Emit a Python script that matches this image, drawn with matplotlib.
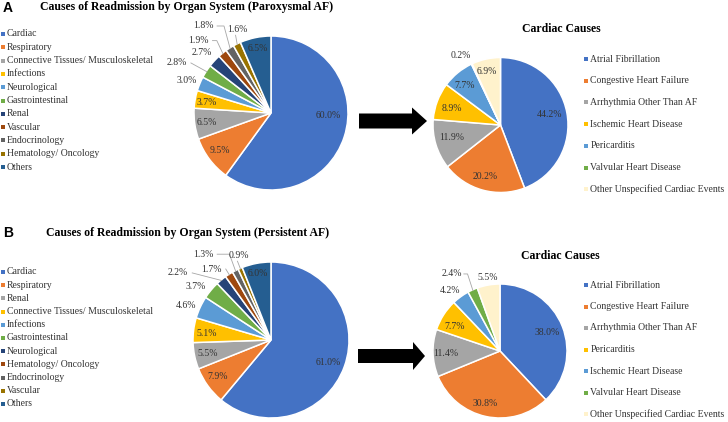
import matplotlib
matplotlib.use("Agg")
import matplotlib.pyplot as plt
import numpy as np
from matplotlib.patches import Polygon

plt.rcParams['font.family'] = ['Liberation Serif', 'DejaVu Serif']

# ---------------- data ----------------
organ_a_labels = ["Cardiac", "Respiratory", "Connective Tissues/ Musculoskeletal", "Infections",
                  "Neurological", "Gastrointestinal", "Renal", "Vascular", "Endocrinology",
                  "Hematology/ Oncology", "Others"]
organ_a_values = [60.0, 9.5, 6.5, 3.7, 3.0, 2.8, 2.7, 1.9, 1.8, 1.6, 6.5]

cardiac_a_labels = ["Atrial Fibrillation", "Congestive Heart Failure", "Arrhythmia Other Than AF",
                    "Ischemic Heart Disease", "Pericarditis", "Valvular Heart Disease",
                    "Other Unspecified Cardiac Events"]
cardiac_a_values = [44.2, 20.2, 11.9, 8.9, 7.7, 0.2, 6.9]

organ_b_labels = ["Cardiac", "Respiratory", "Renal", "Connective Tissues/ Musculoskeletal",
                  "Infections", "Gastrointestinal", "Neurological", "Hematology/ Oncology",
                  "Endocrinology", "Vascular", "Others"]
organ_b_values = [61.0, 7.9, 5.5, 5.1, 4.6, 3.7, 2.2, 1.7, 1.3, 0.9, 6.0]

cardiac_b_labels = ["Atrial Fibrillation", "Congestive Heart Failure", "Arrhythmia Other Than AF",
                    "Pericarditis", "Ischemic Heart Disease", "Valvular Heart Disease",
                    "Other Unspecified Cardiac Events"]
cardiac_b_values = [38.0, 30.8, 11.4, 7.7, 4.2, 2.4, 5.5]

# ---------------- styles / layout ----------------
organ_colors = ["#4472C4", "#ED7D31", "#A5A5A5", "#FFC000", "#5B9BD5", "#70AD47",
                "#264478", "#9E480E", "#636363", "#997300", "#255E91"]
cardiac_colors = ["#4472C4", "#ED7D31", "#A5A5A5", "#FFC000", "#5B9BD5", "#70AD47", "#FFF2CC"]

W, H = 728, 422
TXT = "#333333"
LEAD = "#A6A6A6"

# label positions in pie-radius units and leader flags
lab_a1 = [(0.74, -0.03), (-0.66, -0.49), (-0.83, -0.12), (-0.83, 0.13), (-1.10, 0.42),
          (-1.22, 0.65), (-0.90, 0.78), (-0.94, 0.94), (-0.88, 1.13), (-0.44, 1.08), (-0.17, 0.84)]
lead_a1 = [0, 0, 0, 0, 0, 1, 0, 1, 1, 1, 0]
lab_a2 = [(0.73, 0.16), (-0.23, -0.77), (-0.72, -0.18), (-0.72, 0.25), (-0.53, 0.59),
          (-0.59, 1.03), (-0.20, 0.79)]
lead_a2 = [0, 0, 0, 0, 0, 0, 0]
lab_b1 = [(0.73, -0.29), (-0.68, -0.47), (-0.81, -0.17), (-0.82, 0.08), (-1.09, 0.44),
          (-0.96, 0.68), (-1.19, 0.86), (-0.76, 0.91), (-0.87, 1.10), (-0.41, 1.08), (-0.17, 0.85)]
lead_b1 = [0, 0, 0, 0, 0, 0, 1, 1, 1, 1, 0]
lab_b2 = [(0.70, 0.27), (-0.22, -0.78), (-0.81, -0.04), (-0.67, 0.37), (-0.75, 0.90),
          (-0.72, 1.15), (-0.19, 1.10)]
lead_b2 = [0, 0, 0, 0, 0, 1, 0]

fig = plt.figure(figsize=(W / 100, H / 100), dpi=100)
ov = fig.add_axes([0, 0, 1, 1])
ov.set_xlim(0, W)
ov.set_ylim(H, 0)
ov.axis("off")


def pie_at(cx, cy, R, values, colors, labpos, leads):
    ax = fig.add_axes([(cx - R) / W, 1 - (cy + R) / H, 2 * R / W, 2 * R / H])
    wedges, _ = ax.pie(values, colors=colors, startangle=90, counterclock=False,
                       wedgeprops=dict(edgecolor="white", linewidth=1.1))
    ax.set_xlim(-1, 1)
    ax.set_ylim(-1, 1)
    ax.set_aspect("equal")
    ax.axis("off")
    for w, v, (lx, ly), ld in zip(wedges, values, labpos, leads):
        ax.text(lx, ly, f"{v:.1f}%", ha="center", va="center", fontsize=7, color=TXT,
                clip_on=False)
        if ld:
            th = np.deg2rad((w.theta1 + w.theta2) / 2)
            ex, ey = np.cos(th) * 0.99, np.sin(th) * 0.99
            hw = 0.16
            if ex > lx + hw:
                sx, sy = lx + hw + 0.02, ly
                if ey < ly - 0.12:
                    mx = ex - 0.08 if ex - 0.08 > sx else sx
                    xs, ys = [sx, mx, ex], [sy, sy, ey]
                else:
                    xs, ys = [sx, ex], [sy, ey]
            else:
                xs, ys = [lx - 0.02, ex], [ly - 0.07, ey]
            ax.plot(xs, ys, color=LEAD, lw=0.6, clip_on=False)
    return ax


def legend_at(x, y0, dy, labels, colors, fs=7):
    for i, (lab, c) in enumerate(zip(labels, colors)):
        y = y0 + i * dy
        ov.scatter([x], [y], marker="s", s=7, color=c, linewidths=0)
        ov.text(x + 4.5, y, lab, ha="left", va="center", fontsize=fs, color=TXT)


def arrow(x0, x1, xt, yc, bh, hh):
    pts = [(x0, yc - bh / 2), (x1, yc - bh / 2), (x1, yc - hh / 2), (xt, yc),
           (x1, yc + hh / 2), (x1, yc + bh / 2), (x0, yc + bh / 2)]
    ov.add_patch(Polygon(pts, closed=True, color="black", lw=0))


# Panel A
ov.text(3, 8, "A", fontsize=10, fontweight="bold", family="Liberation Sans", va="center", ha="left")
ov.text(187, 7, "Causes of Readmission by Organ System (Paroxysmal AF)", fontsize=8.5,
        fontweight="bold", ha="center", va="center", color="#000000")
legend_at(2.5, 34, 13.3, organ_a_labels, organ_colors)
pie_at(271, 113, 77, organ_a_values, organ_colors, lab_a1, lead_a1)
arrow(359, 412, 427, 121, 15, 27)
ov.text(561, 29, "Cardiac Causes", fontsize=8.5, fontweight="bold", ha="center", va="center")
pie_at(500.5, 125, 67.5, cardiac_a_values, cardiac_colors, lab_a2, lead_a2)
legend_at(586, 59, 21.7, cardiac_a_labels, cardiac_colors)

# Panel B
ov.text(3, 233, "B", fontsize=10, fontweight="bold", family="Liberation Sans", va="center", ha="left")
ov.text(188, 233, "Causes of Readmission by Organ System (Persistent AF)", fontsize=8.5,
        fontweight="bold", ha="center", va="center", color="#000000")
legend_at(2.5, 272, 13.2, organ_b_labels, organ_colors)
pie_at(271, 340, 78, organ_b_values, organ_colors, lab_b1, lead_b1)
arrow(358, 413, 425, 356, 14, 28)
ov.text(560, 256, "Cardiac Causes", fontsize=8.5, fontweight="bold", ha="center", va="center")
pie_at(500, 351, 67, cardiac_b_values, cardiac_colors, lab_b2, lead_b2)
legend_at(586, 285, 21.5, cardiac_b_labels, cardiac_colors)

fig.savefig("out.png", dpi=100)
